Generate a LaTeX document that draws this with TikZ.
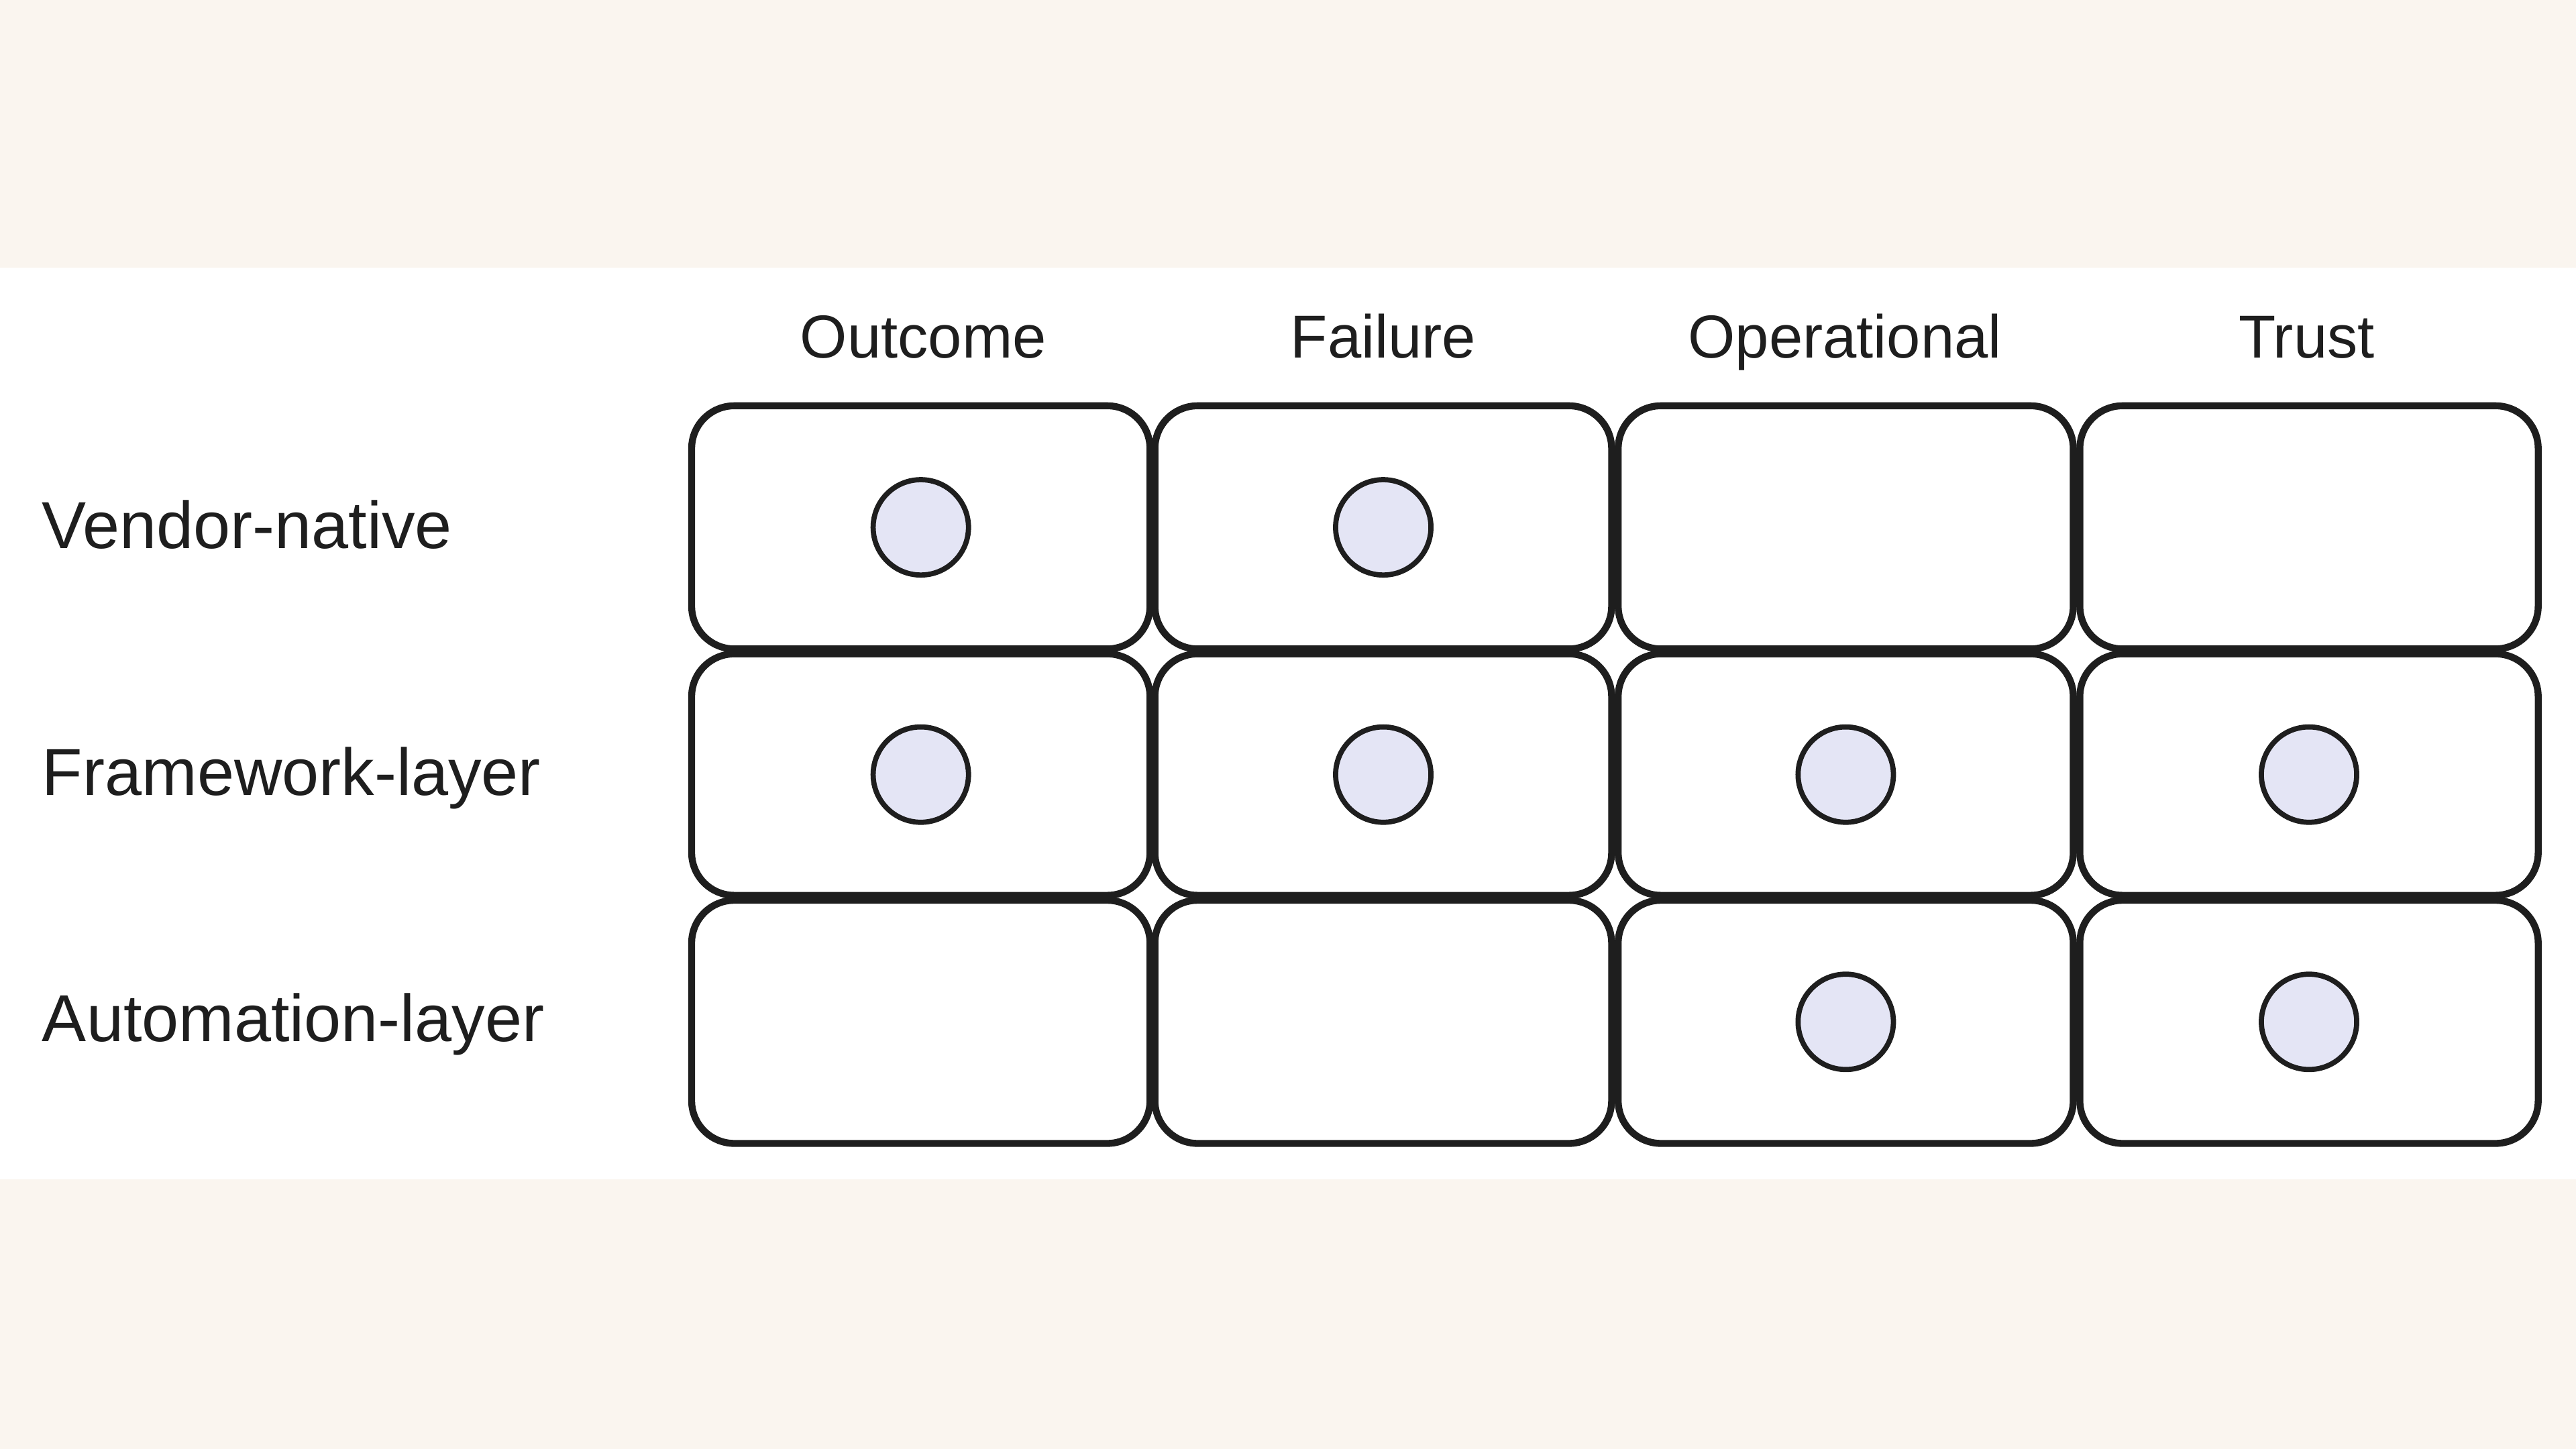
\documentclass[tikz,border=0pt]{standalone}
\usepackage{fontspec}
\setmainfont{Liberation Sans}
\definecolor{cream}{HTML}{FAF5EF}
\definecolor{dotfill}{HTML}{E4E5F5}
\definecolor{ink}{HTML}{1E1E1E}
\begin{document}
\begin{tikzpicture}[x=0.01cm,y=-0.01cm,
  cell/.style={draw=ink,line width=1.2pt,rounded corners=0.26cm,fill=white},
  dot/.style={circle,draw=ink,line width=0.9pt,fill=dotfill,minimum size=0.58cm,inner sep=0pt},
  head/.style={font=\fontsize{10.5pt}{12pt}\selectfont,text=ink,anchor=base},
  rowlab/.style={font=\fontsize{11.5pt}{13pt}\selectfont,text=ink,anchor=base west,inner sep=0pt}]
\fill[cream] (0,0) rectangle (1568,882);
\useasboundingbox (0,0) rectangle (1568,882);
\fill[white] (0,163) rectangle (1568,718);
\foreach \n/\x in {Outcome/562,Failure/842,Operational/1123,Trust/1404}
  \node[head] (h\n) at (\x,218) {\n};
\node[rowlab] (r1) at (25,334) {Vendor-native};
\node[rowlab] (r2) at (25,484) {Framework-layer};
\node[rowlab] (r3) at (25,634) {Automation-layer};
\foreach \c/\xa/\xb in {1/421/700,2/703/981,3/985/1262,4/1266/1545}
  \foreach \r/\ya/\yb in {1/247/395,2/398/545,3/548/696}
    \draw[cell] (\xa,\ya) rectangle (\xb,\yb) node[midway] (c\r\c) {};
\foreach \r/\c in {1/1,1/2,2/1,2/2,2/3,2/4,3/3,3/4}
  \node[dot] (d\r\c) at (c\r\c) {};
\end{tikzpicture}
\end{document}
